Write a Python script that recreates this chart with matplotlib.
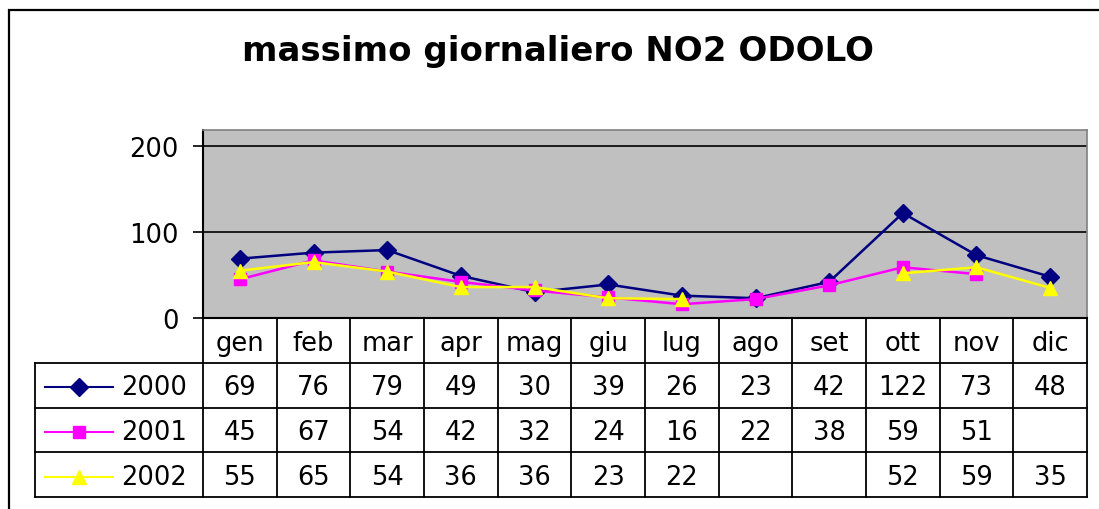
import numpy as np
import matplotlib
matplotlib.use("Agg")
import matplotlib.pyplot as plt
from matplotlib.lines import Line2D
from matplotlib.patches import Rectangle

plt.rcParams['font.family'] = ['DejaVu Sans']

months = ["gen", "feb", "mar", "apr", "mag", "giu", "lug", "ago", "set", "ott", "nov", "dic"]
years = ["2000", "2001", "2002"]
v2000 = [69, 76, 79, 49, 30, 39, 26, 23, 42, 122, 73, 48]
v2001 = [45, 67, 54, 42, 32, 24, 16, 22, 38, 59, 51, None]
v2002 = [55, 65, 54, 36, 36, 23, 22, None, None, 52, 59, 35]
series = [v2000, v2001, v2002]

colors = ["#000080", "#FF00FF", "#FFFF00"]
markers = ["D", "s", "^"]
msizes = [9, 8, 10]
fs = 18.5

W, H = 1099, 510
fig = plt.figure(figsize=(W / 100, H / 100), dpi=100)

# outer chart border (only top/left visible in the crop)
fig.patches.append(Rectangle((9 / W, -0.1), 1.2, (H - 11) / H + 0.1, transform=fig.transFigure,
                             fill=False, edgecolor="black", linewidth=1.6))

fig.text(558 / W, 1 - 52 / H, "massimo giornaliero NO2 ODOLO", ha="center", va="center",
         fontsize=24.5, fontweight="bold")

# plot area in pixels
left, right, top, bottom = 203, 1087, 131, 319
ax = fig.add_axes([left / W, 1 - bottom / H, (right - left) / W, (bottom - top) / H])
ax.set_facecolor("#C0C0C0")
x = np.arange(len(months))
for vals, c, m, ms in zip(series, colors, markers, msizes):
    y = np.array([np.nan if v is None else v for v in vals], dtype=float)
    ax.plot(x, y, color=c, marker=m, markersize=ms, linewidth=1.8,
            markerfacecolor=c, markeredgecolor=c)
ax.set_xlim(-0.5, len(months) - 0.5)
ax.set_ylim(0, 218.6)
ax.set_yticks([0, 100, 200])
ax.set_xticks([])
ax.tick_params(axis="y", length=7.2, width=1.2, pad=10.5, labelsize=fs)
for yy in [100, 200]:
    ax.axhline(yy, color="black", linewidth=1.2, zorder=1)
for s in ["top", "right"]:
    ax.spines[s].set_color("#808080")
    ax.spines[s].set_linewidth(1.2)
for s in ["left", "bottom"]:
    ax.spines[s].set_color("black")
    ax.spines[s].set_linewidth(1.5)

# data table below, sharing the month columns
tbottom = 498
axt = fig.add_axes([left / W, 1 - tbottom / H, (right - left) / W, (tbottom - bottom) / H])
axt.set_xlim(-0.5, len(months) - 0.5)
axt.set_ylim(4, 0)
axt.axis("off")
px = len(months) / (right - left)  # data units per pixel
tleft = -0.5 - (left - 35) * px
lw = 1.3
kw = dict(color="black", linewidth=lw, clip_on=False)
for k in range(len(months) + 1):
    axt.add_line(Line2D([k - 0.5, k - 0.5], [0, 4], **kw))
axt.add_line(Line2D([tleft, tleft], [1, 4], **kw))
for r in [1, 2, 3, 4]:
    axt.add_line(Line2D([tleft, len(months) - 0.5], [r, r], **kw))

for i, mth in enumerate(months):
    axt.text(i, 0.55, mth, ha="center", va="center", fontsize=fs)
for r, (yr, vals, c, m, ms) in enumerate(zip(years, series, colors, markers, msizes), start=1):
    yc = r + 0.55
    axt.add_line(Line2D([-0.5 - (left - 45) * px, -0.5 - (left - 113) * px], [yc, yc],
                        color=c, linewidth=1.5, clip_on=False))
    axt.add_line(Line2D([-0.5 - (left - 79) * px], [yc], color=c, marker=m, markersize=ms,
                        markerfacecolor=c, markeredgecolor=c, clip_on=False))
    axt.text(-0.5 - (left - 121) * px, yc, yr, ha="left", va="center", fontsize=fs)
    for i, v in enumerate(vals):
        if v is not None:
            axt.text(i, yc, str(v), ha="center", va="center", fontsize=fs)

fig.savefig("out.png", dpi=100)
